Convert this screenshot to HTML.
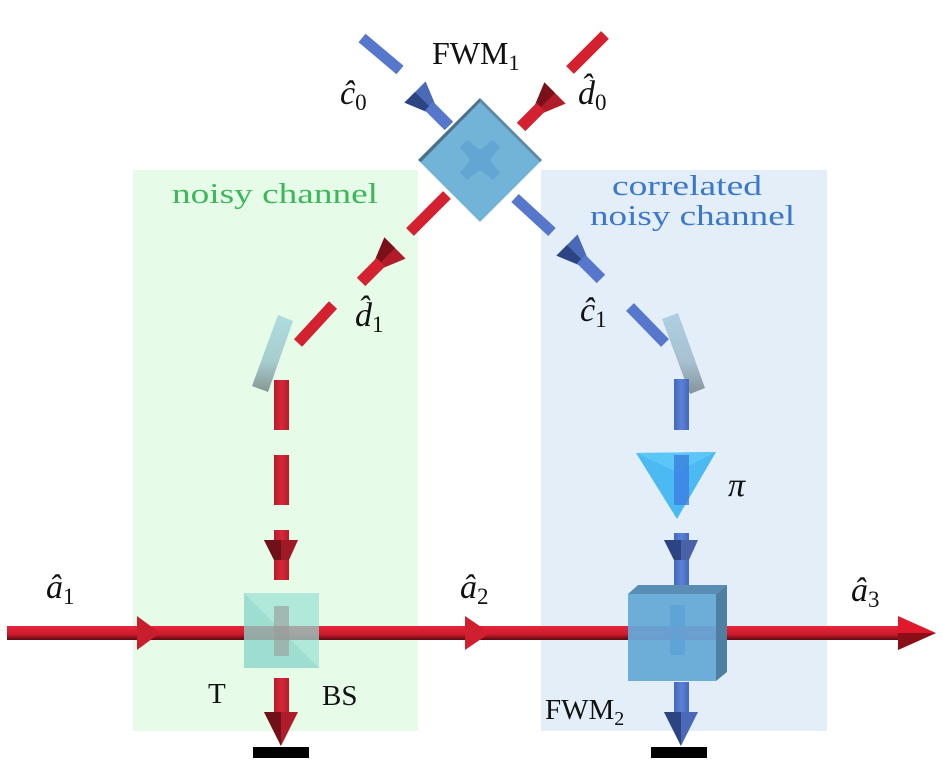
<!DOCTYPE html>
<html><head><meta charset="utf-8"><style>
html,body{margin:0;padding:0;background:#fff;}
svg{display:block;}
text{font-family:"Liberation Serif",serif;fill:#111;}
</style></head><body>
<svg width="943" height="769" viewBox="0 0 943 769" xmlns="http://www.w3.org/2000/svg">
<defs>
<linearGradient id="rh" x1="0" y1="0" x2="0" y2="1"><stop offset="0" stop-color="#e8263a"/><stop offset="0.6" stop-color="#cc1a2c"/><stop offset="1" stop-color="#5a0a10"/></linearGradient>
<linearGradient id="rv" x1="0" y1="0" x2="1" y2="0"><stop offset="0" stop-color="#b81a2a"/><stop offset="0.5" stop-color="#d8273a"/><stop offset="1" stop-color="#b81a2a"/></linearGradient>
<linearGradient id="bv" x1="0" y1="0" x2="1" y2="0"><stop offset="0" stop-color="#4466bb"/><stop offset="0.5" stop-color="#5b82d8"/><stop offset="1" stop-color="#4466bb"/></linearGradient>
<linearGradient id="mir" x1="0" y1="0" x2="0" y2="1"><stop offset="0" stop-color="#a8d8dc"/><stop offset="0.6" stop-color="#a0c8cc"/><stop offset="1" stop-color="#7a8c8a"/></linearGradient>
<linearGradient id="mirb" x1="0" y1="0" x2="0" y2="1"><stop offset="0" stop-color="#a8cce0"/><stop offset="0.6" stop-color="#a0bccc"/><stop offset="1" stop-color="#7a8890"/></linearGradient>
<g id="fr"><polygon points="-15,0 15,0 6,22 -6,22" fill="#b01c2a"/><polygon points="-15,0 0,0 0,22 -6,22" fill="#7a1018"/><rect x="-6" y="20" width="12" height="28" fill="#d3212f"/></g>
<g id="fb"><polygon points="-15,0 15,0 6,22 -6,22" fill="#4a6ab8"/><polygon points="-15,0 0,0 0,22 -6,22" fill="#2c4482"/><rect x="-6" y="20" width="12" height="28" fill="#5677cc"/></g>
</defs>

<rect x="133" y="170" width="285" height="561" fill="#e6fbe8"/>
<rect x="541" y="170" width="286" height="561" fill="#e3eef9"/>

<text x="172" y="203" font-size="29" textLength="206" lengthAdjust="spacingAndGlyphs" style="fill:#3cb85a">noisy channel</text>
<text x="612" y="195" font-size="29" textLength="150" lengthAdjust="spacingAndGlyphs" style="fill:#3a78cc">correlated</text>
<text x="590" y="225" font-size="29" textLength="205" lengthAdjust="spacingAndGlyphs" style="fill:#3a78cc">noisy channel</text>

<line x1="362" y1="38" x2="400" y2="70" stroke="#5677cc" stroke-width="11"/>
<line x1="570" y1="70" x2="605" y2="35" stroke="#d3212f" stroke-width="11"/>
<use href="#fb" transform="translate(415,92) rotate(-45)"/>
<use href="#fr" transform="translate(555,93) rotate(45)"/>

<polygon points="480,98 542,160 480,222 418,160" fill="#72b4d8"/>
<polygon points="418,160 480,98 480,102 421,162" fill="#4e7088"/>
<polygon points="480,98 542,160 540,162 480,102" fill="#5e8aa8"/>
<polygon points="467,140 480,150 493,140 500,147 490,160 500,173 493,180 480,170 467,180 460,173 470,160 460,147" fill="#62a6d4"/>

<line x1="447" y1="195" x2="410" y2="232" stroke="#d3212f" stroke-width="11"/>
<line x1="515" y1="198" x2="552" y2="232" stroke="#5677cc" stroke-width="11"/>
<use href="#fr" transform="translate(395,248) rotate(45)"/>
<use href="#fb" transform="translate(567,245) rotate(-45)"/>

<line x1="333" y1="305" x2="298" y2="343" stroke="#d3212f" stroke-width="11"/>
<polygon points="278,315 293,321 268,392 252,386" fill="url(#mir)" opacity="0.9"/>
<rect x="274" y="380" width="15" height="50" fill="url(#rv)"/>
<rect x="274" y="455" width="15" height="50" fill="url(#rv)"/>
<rect x="274" y="530" width="15" height="50" fill="url(#rv)"/>
<polygon points="264,540 298,540 289,560 274,560" fill="#a01a26"/>
<polygon points="264,540 281,540 281,560 274,560" fill="#701018"/>

<line x1="630" y1="307" x2="665" y2="343" stroke="#5677cc" stroke-width="11"/>
<polygon points="662,319 678,313 705,388 690,394" fill="url(#mirb)" opacity="0.9"/>
<rect x="674" y="379" width="15" height="51" fill="url(#bv)"/>
<polygon points="636,453 716,452 677,519" fill="#42b6f2" opacity="0.95"/>
<polygon points="636,453 716,452 677,472" fill="#5cc6f6"/>
<rect x="674" y="455" width="15" height="50" fill="#3a80e0" opacity="0.8"/>
<rect x="674" y="533" width="15" height="55" fill="url(#bv)"/>
<polygon points="664,540 698,540 689,560 674,560" fill="#4a62a8"/>
<polygon points="664,540 681,540 681,560 674,560" fill="#2c4482"/>

<rect x="7" y="626" width="895" height="14" fill="url(#rh)"/>
<polygon points="137,616 160,633 137,650" fill="#c81e2e"/>
<polygon points="465,616 490,633 465,650" fill="#d0202f"/>
<polygon points="898,616 936,633 898,650" fill="#e0182c"/>
<polygon points="898,633 936,633 898,650" fill="#8a0e18"/>

<rect x="244" y="593" width="75" height="75" fill="#9ee3d6" opacity="0.75"/>
<polygon points="244,593 319,668 244,668" fill="#7ccabc" opacity="0.35"/>
<rect x="274" y="606" width="15" height="50" fill="#999" opacity="0.6"/>
<rect x="244" y="626" width="75" height="14" fill="#999" opacity="0.45"/>
<rect x="274" y="678" width="15" height="35" fill="url(#rv)"/>
<polygon points="264,712 298,712 281,746" fill="#b01c2a"/>
<polygon points="264,712 281,712 281,746" fill="#701018"/>
<rect x="253" y="747" width="56" height="11" fill="#000"/>

<rect x="674" y="682" width="15" height="32" fill="url(#bv)"/>
<polygon points="664,712 698,712 681,746" fill="#4a6ab8"/>
<polygon points="664,712 681,712 681,746" fill="#2c4482"/>
<rect x="651" y="747" width="56" height="11" fill="#000"/>
<polygon points="628,594 638,585 727,585 716,594" fill="#5a8db4"/>
<polygon points="716,594 727,585 727,672 716,681" fill="#4f7fa0"/>
<rect x="628" y="594" width="88" height="87" fill="#66aad6" opacity="0.95"/>
<rect x="670" y="605" width="15" height="50" fill="#5ea4d6"/>
<rect x="628" y="626" width="88" height="14" fill="#6a9ed0" opacity="0.7"/>

<text x="432" y="64" font-size="32">FWM<tspan font-size="22" dy="6">1</tspan></text>
<text x="340" y="104" font-size="34" font-style="italic">ĉ<tspan font-style="normal" font-size="23" dy="6">0</tspan></text>
<text x="578" y="104" font-size="34" font-style="italic">d̂<tspan font-style="normal" font-size="23" dy="6">0</tspan></text>
<text x="355" y="326" font-size="34" font-style="italic">d̂<tspan font-style="normal" font-size="23" dy="6">1</tspan></text>
<text x="580" y="321" font-size="34" font-style="italic">ĉ<tspan font-style="normal" font-size="23" dy="6">1</tspan></text>
<text x="728" y="496" font-size="34" font-style="italic">π</text>
<text x="46" y="598" font-size="34" font-style="italic">â<tspan font-style="normal" font-size="23" dy="6">1</tspan></text>
<text x="460" y="598" font-size="34" font-style="italic">â<tspan font-style="normal" font-size="23" dy="6">2</tspan></text>
<text x="851" y="601" font-size="34" font-style="italic">â<tspan font-style="normal" font-size="23" dy="6">3</tspan></text>
<text x="208" y="703" font-size="29">T</text>
<text x="322" y="705" font-size="29">BS</text>
<text x="545" y="719" font-size="29">FWM<tspan font-size="20" dy="6">2</tspan></text>
</svg>
</body></html>
